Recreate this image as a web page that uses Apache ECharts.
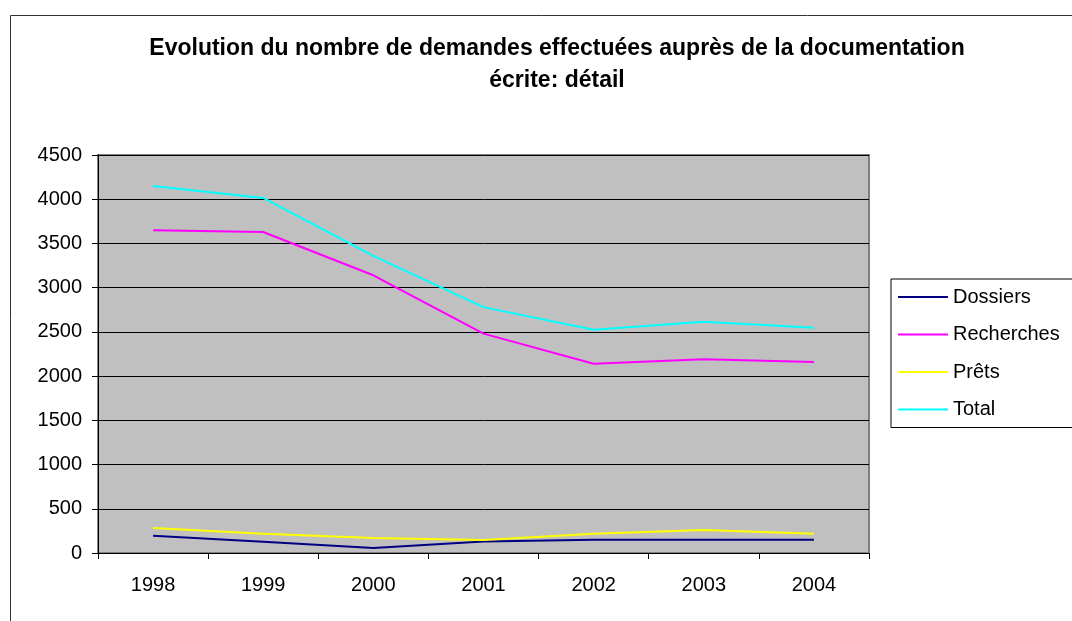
<!DOCTYPE html>
<html lang="fr">
<head>
<meta charset="utf-8">
</head>
<body style="margin:0;background:#fff">
<div id="container" style="width:1072px;height:621px"></div>
<script src="https://cdn.jsdelivr.net/npm/echarts@6/dist/echarts.min.js"></script>
<script>
// données
var annees = ['1998', '1999', '2000', '2001', '2002', '2003', '2004'];
var dossiers = [196, 128, 57, 131, 150, 150, 150];
var recherches = [3650, 3630, 3140, 2480, 2140, 2190, 2160];
var prets = [283, 218, 170, 147, 218, 260, 218];
var total = [4150, 4015, 3360, 2780, 2525, 2615, 2547];

var font = '"Liberation Sans", Arial, sans-serif';
var chart = echarts.init(document.getElementById('container'));

function ligne(nom, data, couleur) {
    return {
        name: nom,
        type: 'line',
        data: data,
        symbol: 'none',
        lineStyle: { color: couleur, width: 2 },
        itemStyle: { color: couleur }
    };
}

chart.setOption({
    animation: false,
    textStyle: { fontFamily: font },
    title: {
        text: 'Evolution du nombre de demandes effectuées auprès de la documentation\nécrite: détail',
        left: 552,
        textAlign: 'center',
        top: 28,
        textStyle: { fontSize: 23, fontWeight: 'bold', color: '#000', lineHeight: 32, fontFamily: font }
    },
    graphic: [{
        type: 'rect',
        shape: { x: 10.5, y: 15.5, width: 1100, height: 700 },
        style: { fill: 'none', stroke: '#333', lineWidth: 1 },
        silent: true
    }],
    legend: {
        orient: 'vertical',
        left: 891,
        top: 279,
        data: ['Dossiers', 'Recherches', 'Prêts', 'Total'],
        icon: 'rect',
        itemWidth: 50,
        itemHeight: 2,
        itemGap: 17.5,
        padding: [8, 30, 8, 7],
        borderColor: '#000',
        borderWidth: 1,
        textStyle: { fontSize: 20, lineHeight: 20, color: '#000', fontFamily: font }
    },
    grid: {
        left: 98,
        right: 203,
        top: 155,
        bottom: 68,
        show: true,
        backgroundColor: '#c0c0c0',
        borderColor: '#808080',
        borderWidth: 2
    },
    xAxis: {
        type: 'category',
        data: annees,
        boundaryGap: true,
        axisLine: { lineStyle: { color: '#000', width: 1 } },
        axisTick: { show: true, length: 6, lineStyle: { color: '#000' } },
        axisLabel: { fontSize: 20, color: '#000', margin: 22, fontFamily: font }
    },
    yAxis: {
        type: 'value',
        min: 0,
        max: 4500,
        interval: 500,
        axisLine: { show: true, lineStyle: { color: '#000', width: 1 } },
        axisTick: { show: true, length: 6, lineStyle: { color: '#000' } },
        axisLabel: { fontSize: 20, color: '#000', margin: 16, fontFamily: font, formatter: function (v) { return String(v); } },
        splitLine: { show: true, lineStyle: { color: '#000', width: 1 } }
    },
    series: [
        ligne('Dossiers', dossiers, '#000080'),
        ligne('Recherches', recherches, '#ff00ff'),
        ligne('Prêts', prets, '#ffff00'),
        ligne('Total', total, '#00ffff')
    ]
});
</script>
</body>
</html>
